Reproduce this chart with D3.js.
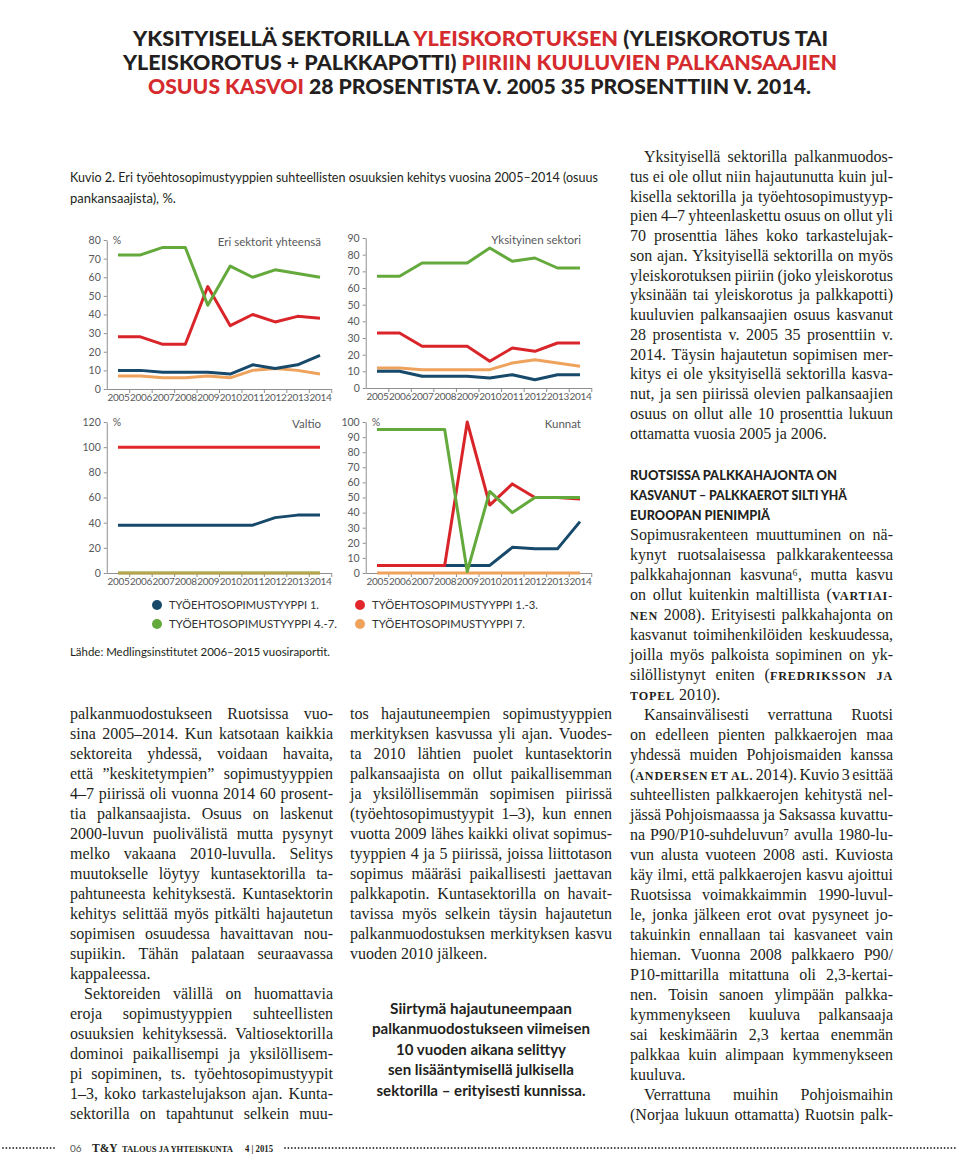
<!DOCTYPE html>
<html><head><meta charset="utf-8">
<script src="https://cdn.jsdelivr.net/npm/d3@7"></script>
<style>body{margin:0;background:#fff}svg{display:block}</style>
</head><body>
<svg id="page" width="960" height="1157"></svg>
<script>
// ---------------- DATA ----------------
const years = [2005,2006,2007,2008,2009,2010,2011,2012,2013,2014];
// Eri sektorit yhteensä
const totalT1  = [10,10,9,9,9,8,13,11,13,18];
const totalT13 = [28,28,24,24,55,34,40,36,39,38];
const totalT47 = [72,72,76,76,45,66,60,64,62,60];
const totalT7  = [7,7,6,6,7,6,10,11,10,8];
// Yksityinen sektori
const privT1  = [10,10,7,7,7,6,8,5,8,8];
const privT13 = [33,33,25,25,25,16,24,22,27,27];
const privT47 = [67,67,75,75,75,84,76,78,72,72];
const privT7  = [12,12,11,11,11,11,15,17,15,13];
// Valtio
const stateT1  = [38,38,38,38,38,38,38,44,46,46];
const stateT13 = [100,100,100,100,100,100,100,100,100,100];
const stateT47 = [0,0,0,0,0,0,0,0,0,0];
const stateT7  = [0,0,0,0,0,0,0,0,0,0];
// Kunnat
const munT1  = [5,5,5,5,5,5,17,16,16,34];
const munT13 = [5,5,5,5,100,45,59,50,50,49];
const munT47 = [95,95,95,95,1,54,40,50,50,50];
const munT7  = [0,0,0,0,0,0,0,0,0,0];

const ticksTotal = [0,10,20,30,40,50,60,70,80];
const ticksPriv  = [0,10,20,30,40,50,60,70,80,90];
const ticksState = [0,20,40,60,80,100,120];
const ticksMun   = [0,10,20,30,40,50,60,70,80,90,100];

const panelTitles = ['Eri sektorit yhteensä','Yksityinen sektori','Valtio','Kunnat'];
const legendLabels = ['TYÖEHTOSOPIMUSTYYPPI 1.','TYÖEHTOSOPIMUSTYYPPI 4.-7.','TYÖEHTOSOPIMUSTYYPPI 1.-3.','TYÖEHTOSOPIMUSTYYPPI 7.'];

// ---------------- TEXT ----------------
const titleLines = [
  [["YKSITYISELLÄ SEKTORILLA ",0],["YLEISKOROTUKSEN",1],[" (YLEISKOROTUS TAI",0]],
  [["YLEISKOROTUS + PALKKAPOTTI) ",0],["PIIRIIN KUULUVIEN PALKANSAAJIEN",1]],
  [["OSUUS KASVOI",1],[" 28 PROSENTISTA V. 2005 35 PROSENTTIIN V. 2014.",0]]
];
const captionLines = ["Kuvio 2. Eri työehtosopimustyyppien suhteellisten osuuksien kehitys vuosina 2005–2014 (osuus","pankansaajista), %."];
const sourceText = "Lähde: Medlingsinstitutet 2006–2015 vuosiraportit.";

const leftCol = [
 {indent:false, lines:[
  "palkanmuodostukseen Ruotsissa vuo-",
  "sina 2005–2014. Kun katsotaan kaikkia",
  "sektoreita yhdessä, voidaan havaita,",
  "että ”keskitetympien” sopimustyyppien",
  "4–7 piirissä oli vuonna 2014 60 prosent-",
  "tia palkansaajista. Osuus on laskenut",
  "2000-luvun puolivälistä mutta pysynyt",
  "melko vakaana 2010-luvulla. Selitys",
  "muutokselle löytyy kuntasektorilla ta-",
  "pahtuneesta kehityksestä. Kuntasektorin",
  "kehitys selittää myös pitkälti hajautetun",
  "sopimisen osuudessa havaittavan nou-",
  "supiikin. Tähän palataan seuraavassa",
  "kappaleessa."]},
 {indent:true, justifyLast:true, lines:[
  "Sektoreiden välillä on huomattavia",
  "eroja sopimustyyppien suhteellisten",
  "osuuksien kehityksessä. Valtiosektorilla",
  "dominoi paikallisempi ja yksilöllisem-",
  "pi sopiminen, ts. työehtosopimustyypit",
  "1–3, koko tarkastelujakson ajan. Kunta-",
  "sektorilla on tapahtunut selkein muu-"]}
];
const midCol = [
 {indent:false, lines:[
  "tos hajautuneempien sopimustyyppien",
  "merkityksen kasvussa yli ajan. Vuodes-",
  "ta 2010 lähtien puolet kuntasektorin",
  "palkansaajista on ollut paikallisemman",
  "ja yksilöllisemmän sopimisen piirissä",
  "(työehtosopimustyypit 1–3), kun ennen",
  "vuotta 2009 lähes kaikki olivat sopimus-",
  "tyyppien 4 ja 5 piirissä, joissa liittotason",
  "sopimus määräsi paikallisesti jaettavan",
  "palkkapotin. Kuntasektorilla on havait-",
  "tavissa myös selkein täysin hajautetun",
  "palkanmuodostuksen merkityksen kasvu",
  "vuoden 2010 jälkeen."]}
];
const quoteLines = ["Siirtymä hajautuneempaan","palkanmuodostukseen viimeisen","10 vuoden aikana selittyy","sen lisääntymisellä julkisella","sektorilla – erityisesti kunnissa."];
const rightTop = [
 {indent:true, lines:[
  "Yksityisellä sektorilla palkanmuodos-",
  "tus ei ole ollut niin hajautunutta kuin jul-",
  "kisella sektorilla ja työehtosopimustyyp-",
  "pien 4–7 yhteenlaskettu osuus on ollut yli",
  "70 prosenttia lähes koko tarkastelujak-",
  "son ajan. Yksityisellä sektorilla on myös",
  "yleiskorotuksen piiriin (joko yleiskorotus",
  "yksinään tai yleiskorotus ja palkkapotti)",
  "kuuluvien palkansaajien osuus kasvanut",
  "28 prosentista v. 2005 35 prosenttiin v.",
  "2014. Täysin hajautetun sopimisen mer-",
  "kitys ei ole yksityisellä sektorilla kasva-",
  "nut, ja sen piirissä olevien palkansaajien",
  "osuus on ollut alle 10 prosenttia lukuun",
  "ottamatta vuosia 2005 ja 2006."]}
];
const headingLines = ["RUOTSISSA PALKKAHAJONTA ON","KASVANUT – PALKKAEROT SILTI YHÄ","EUROOPAN PIENIMPIÄ"];
const rightBottom = [
 {indent:false, lines:[
  "Sopimusrakenteen muuttuminen on nä-",
  "kynyt ruotsalaisessa palkkarakenteessa",
  "palkkahajonnan kasvuna⁶, mutta kasvu",
  "on ollut kuitenkin maltillista ({vartiai-}",
  "{nen} 2008). Erityisesti palkkahajonta on",
  "kasvanut toimihenkilöiden keskuudessa,",
  "joilla myös palkoista sopiminen on yk-",
  "silöllistynyt eniten ({fredriksson ja}",
  "{topel} 2010)."]},
 {indent:true, lines:[
  "Kansainvälisesti verrattuna Ruotsi",
  "on edelleen pienten palkkaerojen maa",
  "yhdessä muiden Pohjoismaiden kanssa",
  "({andersen et al.} 2014). Kuvio 3 esittää",
  "suhteellisten palkkaerojen kehitystä nel-",
  "jässä Pohjoismaassa ja Saksassa kuvattu-",
  "na P90/P10-suhdeluvun⁷ avulla 1980-lu-",
  "vun alusta vuoteen 2008 asti. Kuviosta",
  "käy ilmi, että palkkaerojen kasvu ajoittui",
  "Ruotsissa voimakkaimmin 1990-luvul-",
  "le, jonka jälkeen erot ovat pysyneet jo-",
  "takuinkin ennallaan tai kasvaneet vain",
  "hieman. Vuonna 2008 palkkaero P90/",
  "P10-mittarilla mitattuna oli 2,3-kertai-",
  "nen. Toisin sanoen ylimpään palkka-",
  "kymmenykseen kuuluva palkansaaja",
  "sai keskimäärin 2,3 kertaa enemmän",
  "palkkaa kuin alimpaan kymmenykseen",
  "kuuluva."]},
 {indent:true, justifyLast:true, lines:[
  "Verrattuna muihin Pohjoismaihin",
  "(Norjaa lukuun ottamatta) Ruotsin palk-"]}
];

// ---------------- STYLE ----------------
const SANS = 'Lato, "Open Sans", sans-serif';
const SERIF = '"Liberation Serif", "DejaVu Serif", serif';
const INK = '#231f20';
const RED_T = '#d52b2e';
const C = {t1:'#17496b', t13:'#d9252a', t47:'#64a93b', t7:'#eea25c'};

const svg = d3.select('#page');
svg.append('rect').attr('width',960).attr('height',1157).attr('fill','#fff');

// ---------------- TITLE ----------------
const titleGeom = [[133,828,46],[123,837,70],[148,811,94]];
titleLines.forEach((segs,i)=>{
  const [x0,x1,yb] = titleGeom[i];
  const t = svg.append('text').attr('x',x0).attr('y',yb)
    .attr('font-family',SANS).attr('font-weight',900).attr('font-size',21.5)
    .attr('textLength',x1-x0).attr('lengthAdjust','spacingAndGlyphs');
  segs.forEach(([s,red])=>t.append('tspan').text(s).attr('fill',red?RED_T:INK));
});

// ---------------- CAPTION ----------------
svg.append('text').attr('x',70).attr('y',182).attr('font-family',SANS).attr('font-size',13)
  .attr('fill',INK).attr('textLength',528).attr('lengthAdjust','spacingAndGlyphs').text(captionLines[0]);
svg.append('text').attr('x',70).attr('y',203).attr('font-family',SANS).attr('font-size',13)
  .attr('fill',INK).text(captionLines[1]);

// ---------------- CHARTS ----------------
const panels = [
  {title:panelTitles[0], pct:true,  ymax:80,  ticks:ticksTotal, x0:118, x1:320, yTop:240, yBot:389,
   series:[[totalT7,C.t7],[totalT1,C.t1],[totalT13,C.t13],[totalT47,C.t47]]},
  {title:panelTitles[1], pct:false, ymax:90,  ticks:ticksPriv,  x0:377, x1:580, yTop:238, yBot:388,
   series:[[privT7,C.t7],[privT1,C.t1],[privT13,C.t13],[privT47,C.t47]]},
  {title:panelTitles[2], pct:true,  ymax:120, ticks:ticksState, x0:118, x1:320, yTop:422, yBot:573,
   series:[[stateT47,C.t47],[stateT7,C.t7,0.6],[stateT1,C.t1],[stateT13,'#e3262b']]},
  {title:panelTitles[3], pct:true,  ymax:100, ticks:ticksMun,   x0:377, x1:580, yTop:422, yBot:573,
   series:[[munT7,C.t7],[munT1,C.t1],[munT13,C.t13],[munT47,C.t47]]}
];

panels.forEach(p=>{
  const g = svg.append('g');
  const xp = d3.scalePoint().domain(years).range([p.x0,p.x1]);
  const step = xp.step();
  const xe = d3.scaleLinear().domain([0,10]).range([p.x0-step/2, p.x1+step/2]);
  const y = d3.scaleLinear().domain([0,p.ymax]).range([p.yBot,p.yTop]);

  const ya = g.append('g').attr('transform',`translate(${xe(0)},0)`)
    .call(d3.axisLeft(y).tickValues(p.ticks).tickSize(3).tickPadding(3).tickSizeOuter(0));
  const xa = g.append('g').attr('transform',`translate(0,${p.yBot})`)
    .call(d3.axisBottom(xe).tickValues(d3.range(1,11)).tickFormat('').tickSize(4).tickSizeOuter(0));
  const xl = g.append('g').attr('transform',`translate(0,${p.yBot})`)
    .call(d3.axisBottom(xp).tickSize(0).tickPadding(5).tickFormat(d3.format('d')));
  xl.select('.domain').remove();
  [ya,xa,xl].forEach(a=>{
    a.selectAll('.domain').attr('stroke','#8f8f8f').attr('stroke-width',1);
    a.selectAll('.tick line').attr('stroke','#8f8f8f');
    a.selectAll('text').attr('font-family',SANS).attr('font-size',10.5).attr('fill','#58595b');
  });
  xl.selectAll('text').attr('font-size',10).attr('letter-spacing',-0.3);

  const line = d3.line().x((d,i)=>xp(years[i])).y(d=>y(d));
  p.series.forEach(([vals,col,op])=>{
    g.append('path').attr('d',line(vals)).attr('fill','none').attr('stroke',col)
      .attr('stroke-width',3).attr('stroke-linejoin','round')
      .attr('stroke-opacity',op==null?1:op);
  });

  if(p.pct) g.append('text').attr('x',xe(0)+6).attr('y',p.yTop+4).attr('font-family',SANS)
    .attr('font-size',10.5).attr('fill','#58595b').text('%');
  g.append('text').attr('x',p.x1+1).attr('y',p.yTop+6).attr('text-anchor','end')
    .attr('font-family',SANS).attr('font-size',11.5).attr('fill','#58595b').text(p.title);
});

// ---------------- LEGEND ----------------
const legendPos = [[157,605,150],[157,624,168],[360,605,166],[360,624,153]];
const legendCols = [C.t1,C.t47,'#e3262b',C.t7];
legendLabels.forEach((lab,i)=>{
  const [cx,cy,w] = legendPos[i];
  svg.append('circle').attr('cx',cx).attr('cy',cy).attr('r',5).attr('fill',legendCols[i]);
  svg.append('text').attr('x',cx+12).attr('y',cy+4).attr('font-family',SANS).attr('font-size',11)
    .attr('fill','#333').attr('textLength',w).attr('lengthAdjust','spacingAndGlyphs').text(lab);
});
svg.append('text').attr('x',70).attr('y',656).attr('font-family',SANS).attr('font-size',11.5)
  .attr('fill',INK).attr('textLength',260).attr('lengthAdjust','spacingAndGlyphs').text(sourceText);

// ---------------- BODY TEXT ----------------
function parseWords(line){
  const words=[]; let cur=[]; let seg=null; let sc=false;
  for(const ch of line){
    if(ch==='{'){sc=true;seg=null;continue;}
    if(ch==='}'){sc=false;seg=null;continue;}
    if(ch===' '){ if(cur.length) words.push(cur); cur=[]; seg=null; continue; }
    if(!seg){seg={t:'',sc:sc};cur.push(seg);}
    seg.t+=ch;
  }
  if(cur.length) words.push(cur);
  return words;
}
const BODY = 16;
function block(x, width, y0, lh, paras){
  const g = svg.append('g');
  let y = y0;
  paras.forEach(p=>{
    p.lines.forEach((ln,i)=>{
      const indent = (i===0 && p.indent) ? 14 : 0;
      const last = (i===p.lines.length-1) && !p.justifyLast;
      const words = parseWords(ln);
      const els = words.map(w=>{
        const t = g.append('text').attr('y',y).attr('font-family',SERIF).attr('font-size',BODY).attr('fill',INK);
        w.forEach(s=>{
          const ts = t.append('tspan').text(s.sc ? s.t.toUpperCase() : s.t);
          if(s.sc) ts.attr('font-size',BODY*0.76).attr('font-weight','bold').attr('letter-spacing',0.8);
        });
        return t;
      });
      const ws = els.map(e=>e.node().getComputedTextLength());
      const sum = d3.sum(ws);
      const avail = width-indent;
      let gap = BODY*0.25, scale = 1;
      if(!last && words.length>1) gap = (avail-sum)/(words.length-1);
      if(words.length>1 && gap<2.5){ gap=2.5; scale=(avail-gap*(words.length-1))/sum; }
      let cx = x+indent;
      els.forEach((e,k)=>{
        e.attr('x',cx);
        if(scale<1) e.attr('textLength',ws[k]*scale).attr('lengthAdjust','spacingAndGlyphs');
        cx += ws[k]*scale+gap;
      });
      y += lh;
    });
  });
}
block(70, 263, 719, 20, leftCol);
block(350, 262, 719, 20, midCol);
block(630, 263, 162, 19.75, rightTop);
block(630, 263, 540, 20, rightBottom);

// heading
const headW = [207,217,140];
headingLines.forEach((h,i)=>{
  svg.append('text').attr('x',630).attr('y',480+20*i).attr('font-family',SANS).attr('font-weight',900)
    .attr('font-size',12.5).attr('fill',INK).attr('textLength',headW[i]).attr('lengthAdjust','spacingAndGlyphs').text(h);
});

// pull quote
const quoteW = [182,218,170,186,209];
quoteLines.forEach((q,i)=>{
  svg.append('text').attr('x',481-quoteW[i]/2).attr('y',1014+20.4*i).attr('font-family',SANS).attr('font-weight',700)
    .attr('font-size',15).attr('fill',INK).attr('textLength',quoteW[i]).attr('lengthAdjust','spacingAndGlyphs').text(q);
});

// ---------------- FOOTER ----------------
const fy = 1148;
const dotXs = d3.range(3, 56, 3.4).concat(d3.range(285, 958, 3.4));
svg.append('g').selectAll('circle').data(dotXs).join('circle')
  .attr('cx',d=>d).attr('cy',fy).attr('r',0.9).attr('fill','#333');
svg.append('text').attr('x',70).attr('y',fy+3.5).attr('font-family',SANS).attr('font-size',10).attr('fill','#555').text('06');
svg.append('text').attr('x',92).attr('y',fy+3.5).attr('font-family',SERIF).attr('font-weight','bold').attr('font-size',11.5).attr('fill',INK).text('T&Y');
svg.append('text').attr('x',122).attr('y',fy+3.5).attr('font-family',SERIF).attr('font-weight','bold').attr('font-size',8.5)
  .attr('fill',INK).attr('textLength',111).attr('lengthAdjust','spacingAndGlyphs').text('TALOUS JA YHTEISKUNTA');
svg.append('text').attr('x',245).attr('y',fy+3.5).attr('font-family',SERIF).attr('font-weight','bold').attr('font-size',11)
  .attr('fill',INK).attr('textLength',28).attr('lengthAdjust','spacingAndGlyphs').text('4 | 2015');
</script>
</body></html>
